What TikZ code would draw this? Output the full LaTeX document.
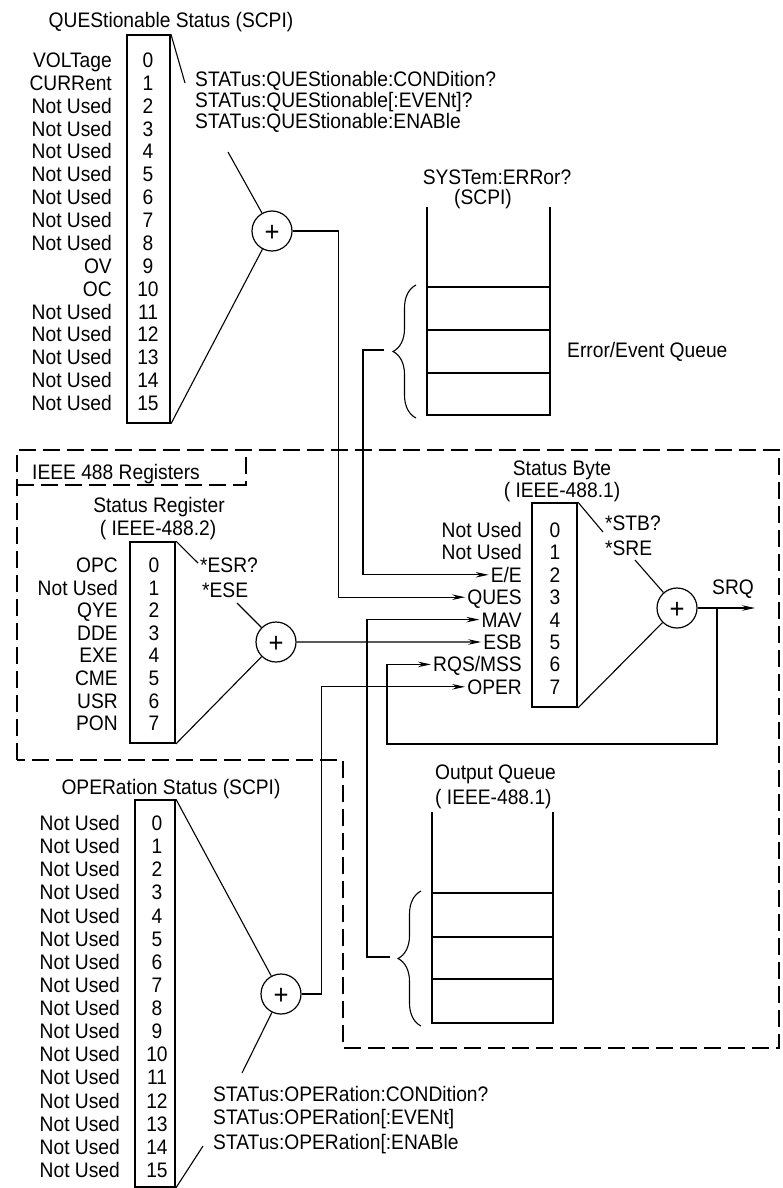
\documentclass[tikz,border=0pt]{standalone}
\usepackage{fontspec}
\setmainfont{Liberation Sans}[FakeStretch=0.915]
\usetikzlibrary{arrows.meta,positioning,decorations.pathreplacing}

\begin{document}
\begin{tikzpicture}[
  x=1pt, y=-1pt,
  every node/.style={font=\fontsize{21}{23}\selectfont, inner sep=0pt, text height=15pt, text depth=0pt},
  regbox/.style={rectangle, draw=black, line width=1.8pt},
  orgate/.style={circle, draw=black, line width=1.2pt, minimum size=40pt, font=\fontsize{28}{28}\selectfont, text height=20pt},
  bitlbl/.style={anchor=east},
  bitnum/.style={anchor=center},
  cmd/.style={anchor=west},
  link/.style={line width=1.1pt},
  feed/.style={link, -{Stealth[length=13pt,width=5.5pt]}, shorten >=2pt},
  frame/.style={line width=1.1pt, dash pattern=on 17pt off 7pt},
  queue/.style={line width=1.8pt},
  curly/.style={link, decorate, decoration={brace, amplitude=23pt}}
]
  \useasboundingbox (0,0) rectangle (782,1188);

  \node (qtitle) at (171,20) {QUEStionable Status (SCPI)};
  \node[regbox, minimum width=43pt, minimum height=388pt] (qreg) at (148.5,229) {};
  \foreach \t [count=\i from 0] in {VOLTage,CURRent,Not Used,Not Used,Not Used,Not Used,Not Used,Not Used,Not Used,OV,OC,Not Used,Not Used,Not Used,Not Used,Not Used} {
    \node[bitlbl] (ql\i) at (112,{60+22.87*\i}) {\t};
    \node[bitnum] (qn\i) at (148,{60+22.87*\i}) {\i};
  }
  \node[cmd] (qc1) at (195,79) {STATus:QUEStionable:CONDition?};
  \node[cmd] (qc2) at ([yshift=-21pt]qc1.west) {STATus:QUEStionable[:EVENt]?};
  \node[cmd] (qc3) at ([yshift=-21pt]qc2.west) {STATus:QUEStionable:ENABle};
  \node[orgate] (qsum) at (272,231) {+};
  \coordinate (qa) at (185,83);
  \coordinate (qb) at (228,152);
  \draw[link] (qreg.north east) -- (qa);
  \draw[link] (qb) -- (qsum);
  \draw[link] (qreg.south east) -- (qsum);

  \node (etitle1) at (497,177) {SYSTem:ERRor?};
  \node (etitle2) at (483,197) {(SCPI)};
  \draw[queue] (427,207) -- (427,415) -- (550,415) -- (550,207);
  \foreach \yy in {287,330,373} \draw[queue] (427,\yy) -- (550,\yy);
  \draw[curly] (416,418) -- (416,285);
  \coordinate (eqtip) at (384,350);
  \node[cmd] (eqlbl) at (567,350) {Error/Event Queue};

  \draw[frame] (17,760) -- (17,450) -- (779,450) -- (779,1048) -- (343,1048) -- (343,760) -- cycle;
  \draw[frame] (17,485) -- (246,485) -- (246,450);
  \node[cmd] (ieee) at (32,472) {IEEE 488 Registers};

  \node (rtitle1) at (159,505) {Status Register};
  \node (rtitle2) at (158,528) {( IEEE-488.2)};
  \node[regbox, minimum width=45pt, minimum height=201pt] (ereg) at (152.5,642.5) {};
  \foreach \t [count=\i from 0] in {OPC,Not Used,QYE,DDE,EXE,CME,USR,PON} {
    \node[bitlbl] (rl\i) at (118,{565+22.6*\i}) {\t};
    \node[bitnum] (rn\i) at (154,{565+22.6*\i}) {\i};
  }
  \node[cmd] (esr) at (200,565) {*ESR?};
  \node[cmd] (ese) at (202,590) {*ESE};
  \node[orgate] (esum) at (276,642) {+};
  \coordinate (ea) at (198,563);
  \coordinate (eb) at (237,603);
  \draw[link] (ereg.north east) -- (ea);
  \draw[link] (eb) -- (esum);
  \draw[link] (ereg.south east) -- (esum);

  \node (btitle1) at (562,468) {Status Byte};
  \node (btitle2) at (562,490) {( IEEE-488.1)};
  \node[regbox, minimum width=45pt, minimum height=204pt] (sreg) at (554.5,605) {};
  \foreach \t [count=\i from 0] in {Not Used,Not Used,E/E,QUES,MAV,ESB,RQS/MSS,OPER} {
    \node[bitlbl] (sl\i) at (522,{530+22.4*\i}) {\t};
    \node[bitnum] (sn\i) at (555,{530+22.4*\i}) {\i};
  }
  \node[cmd] (stb) at (605,523) {*STB?};
  \node[cmd] (sre) at (605,548) {*SRE};
  \node[orgate] (ssum) at (677,608) {+};
  \node (srq) at (733,587) {SRQ};
  \coordinate (sa) at (603,532);
  \coordinate (sb) at (635,560);
  \coordinate (srqend) at (757,608);
  \coordinate (fb) at (717,608);
  \coordinate (rqs) at (387,744);
  \draw[link] (sreg.north east) -- (sa);
  \draw[link] (sb) -- (ssum);
  \draw[link] (sreg.south east) -- (ssum);

  \node (otitle) at (171,787) {OPERation Status (SCPI)};
  \node[regbox, minimum width=40pt, minimum height=387pt] (oreg) at (155,993.5) {};
  \foreach \i in {0,...,15} {
    \node[bitlbl] (ol\i) at (120,{823+23.13*\i}) {Not Used};
    \node[bitnum] (on\i) at (157,{823+23.13*\i}) {\i};
  }
  \node[orgate] (osum) at (281,994) {+};
  \node[cmd] (oc1) at (213,1094) {STATus:OPERation:CONDition?};
  \node[cmd] (oc2) at ([yshift=-23pt]oc1.west) {STATus:OPERation[:EVENt]};
  \node[cmd] (oc3) at ([yshift=-25pt]oc2.west) {STATus:OPERation[:ENABle};
  \coordinate (oa) at (242,1073);
  \coordinate (ob) at (203,1146);
  \draw[link] (oreg.north east) -- (osum);
  \draw[link] (osum) -- (oa);
  \draw[link] (ob) -- (oreg.south east);

  \node[cmd] (oqtitle1) at (435,772) {Output Queue};
  \node[cmd] (oqtitle2) at (435,797) {( IEEE-488.1)};
  \draw[queue] (432,812) -- (432,1023) -- (553,1023) -- (553,812);
  \foreach \yy in {893,937,979} \draw[queue] (432,\yy) -- (553,\yy);
  \draw[curly] (421,1026) -- (421,891);
  \coordinate (oqtip) at (390,957);

  \draw[feed] (qsum.east) -- ++(46,0) |- (sl3.west);
  \draw[feed] (eqtip) -- ++(-21,0) |- (sl2.west);
  \draw[feed] (oqtip) -- ++(-23,0) |- (sl4.west);
  \draw[feed] (esum.east) -- (sl5.west);
  \draw[feed] (ssum.east) -- (srqend);
  \draw[feed] (fb) |- (rqs) |- (sl6.west);
  \draw[feed] (osum.east) -- ++(20,0) |- (sl7.west);
\end{tikzpicture}
\end{document}
